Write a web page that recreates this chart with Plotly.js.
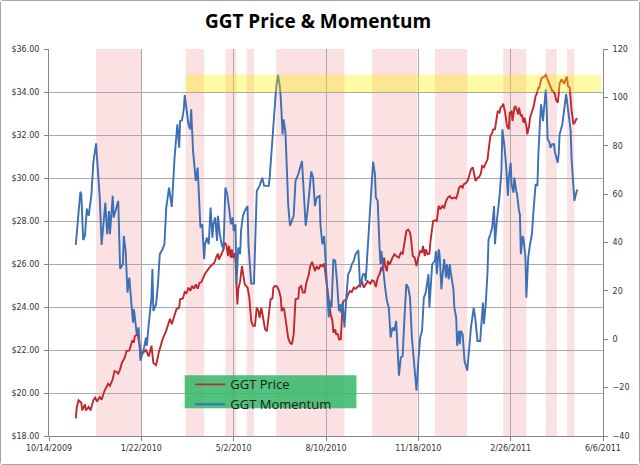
<!DOCTYPE html>
<html>
<head>
<meta charset="utf-8">
<script src="https://cdn.plot.ly/plotly-3.0.1.min.js"></script>
<style>
  body { margin: 0; background: #fff; }
  #frame { width: 638px; height: 463px; border: 1px solid #a6a6a6; border-radius: 3px; }
  #plot1 { width: 638px; height: 463px; }
</style>
</head>
<body>
<div id="frame"><div id="plot1"></div></div>
<script>
///////////////////////////////////////////////  data /////////////////////////////////////////////////////////
var priceDates = [
  '2009-11-12','2009-11-13','2009-11-15','2009-11-18','2009-11-19','2009-11-22','2009-11-23','2009-11-26','2009-11-28',
  '2009-12-01','2009-12-03','2009-12-05','2009-12-08','2009-12-10','2009-12-13','2009-12-15','2009-12-17','2009-12-19',
  '2009-12-22','2009-12-24','2009-12-26','2009-12-28','2009-12-30','2010-01-01','2010-01-04','2010-01-06','2010-01-09',
  '2010-01-12','2010-01-14','2010-01-15','2010-01-18','2010-01-22','2010-01-25','2010-01-27','2010-01-30','2010-02-02',
  '2010-02-04','2010-02-07','2010-02-10','2010-02-14','2010-02-18','2010-02-22','2010-02-24','2010-02-26',
  '2010-03-01','2010-03-04','2010-03-05','2010-03-08','2010-03-10','2010-03-12','2010-03-14','2010-03-16','2010-03-18',
  '2010-03-20','2010-03-22','2010-03-24','2010-03-26','2010-03-28','2010-03-30','2010-04-01','2010-04-03','2010-04-05',
  '2010-04-07','2010-04-09','2010-04-11','2010-04-13','2010-04-15','2010-04-16','2010-04-18','2010-04-21','2010-04-22',
  '2010-04-24','2010-04-26','2010-04-27','2010-04-29','2010-04-30','2010-05-01','2010-05-03','2010-05-04','2010-05-06',
  '2010-05-07','2010-05-09','2010-05-11','2010-05-12','2010-05-14','2010-05-17','2010-05-19','2010-05-21','2010-05-23',
  '2010-05-25','2010-05-27','2010-05-29','2010-05-30','2010-06-01','2010-06-03','2010-06-05','2010-06-07','2010-06-09',
  '2010-06-11','2010-06-13','2010-06-14','2010-06-16','2010-06-18','2010-06-20','2010-06-22','2010-06-23','2010-06-25',
  '2010-06-26','2010-06-28','2010-06-29','2010-06-30','2010-07-02','2010-07-04','2010-07-06','2010-07-07','2010-07-08',
  '2010-07-11','2010-07-12','2010-07-14','2010-07-16','2010-07-18','2010-07-20','2010-07-22','2010-07-24','2010-07-26',
  '2010-07-28','2010-07-29','2010-07-31','2010-08-02','2010-08-04','2010-08-06','2010-08-08','2010-08-10','2010-08-12',
  '2010-08-13','2010-08-15','2010-08-17','2010-08-18','2010-08-20','2010-08-21','2010-08-23','2010-08-24','2010-08-26',
  '2010-08-27','2010-08-28','2010-08-29','2010-09-01','2010-09-03','2010-09-05','2010-09-07','2010-09-09','2010-09-11',
  '2010-09-14','2010-09-16','2010-09-18','2010-09-20','2010-09-22','2010-09-24','2010-09-27','2010-09-29','2010-10-01',
  '2010-10-03','2010-10-05','2010-10-07','2010-10-09','2010-10-10','2010-10-12','2010-10-13','2010-10-15','2010-10-16',
  '2010-10-18','2010-10-20','2010-10-21','2010-10-23','2010-10-25','2010-10-28','2010-10-30','2010-11-01','2010-11-03',
  '2010-11-05','2010-11-07','2010-11-09','2010-11-10','2010-11-12','2010-11-14','2010-11-16','2010-11-18','2010-11-20',
  '2010-11-22','2010-11-23','2010-11-25','2010-11-26','2010-11-28','2010-11-30','2010-12-01','2010-12-03','2010-12-04',
  '2010-12-06','2010-12-08','2010-12-10','2010-12-12','2010-12-14','2010-12-16','2010-12-18','2010-12-20','2010-12-22',
  '2010-12-24','2010-12-27','2010-12-29','2010-12-31','2011-01-01','2011-01-03','2011-01-05','2011-01-06','2011-01-09',
  '2011-01-11','2011-01-13','2011-01-14','2011-01-16','2011-01-18','2011-01-19','2011-01-21','2011-01-23','2011-01-25',
  '2011-01-26','2011-01-28','2011-01-30','2011-02-01','2011-02-02','2011-02-04','2011-02-06','2011-02-07','2011-02-09',
  '2011-02-11','2011-02-12','2011-02-14','2011-02-15','2011-02-17','2011-02-18','2011-02-20','2011-02-21','2011-02-22',
  '2011-02-24','2011-02-25','2011-02-27','2011-02-28','2011-03-02','2011-03-03','2011-03-05','2011-03-06','2011-03-07',
  '2011-03-09','2011-03-10','2011-03-12','2011-03-13','2011-03-15','2011-03-16','2011-03-18','2011-03-19','2011-03-21',
  '2011-03-23','2011-03-25','2011-03-26','2011-03-28','2011-03-29','2011-03-31','2011-04-01','2011-04-03','2011-04-05',
  '2011-04-07','2011-04-09','2011-04-10','2011-04-12','2011-04-13','2011-04-15','2011-04-16','2011-04-18','2011-04-19',
  '2011-04-20','2011-04-22','2011-04-23','2011-04-25','2011-04-26','2011-04-28','2011-04-29','2011-05-01','2011-05-02',
  '2011-05-03','2011-05-05','2011-05-06','2011-05-08','2011-05-09'
];
var priceVals = [
  18.82,19.32,19.66,19.55,19.19,19.47,19.19,19.35,19.19,
  19.66,19.78,19.60,19.81,19.69,20.09,20.25,20.43,20.33,
  20.64,21.02,20.99,20.90,21.10,21.41,21.64,21.95,21.98,
  22.42,22.39,22.65,22.73,21.80,21.90,22.00,21.70,22.20,
  21.40,21.30,21.90,22.50,22.90,23.45,23.20,23.50,
  23.90,23.97,24.36,24.40,24.70,24.65,24.90,24.75,24.98,
  24.85,25.05,24.85,25.13,25.15,25.36,25.55,25.67,25.80,
  25.90,25.98,26.06,26.30,26.48,26.20,26.40,26.68,27.00,
  26.90,26.37,26.84,26.30,26.68,26.30,26.50,26.14,24.12,
  24.82,25.20,25.90,25.67,25.05,24.90,24.43,23.35,23.12,
  23.12,23.97,23.80,23.50,23.97,23.35,22.96,22.88,23.80,
  24.36,24.40,24.90,24.98,24.95,24.78,24.43,23.81,23.97,
  23.81,23.20,22.88,22.57,22.34,22.26,22.73,23.81,24.36,
  24.40,24.90,24.98,24.67,24.67,25.18,25.44,25.90,26.10,
  25.75,25.67,25.90,25.75,25.95,25.90,26.02,25.36,24.59,
  24.28,23.66,23.35,22.81,22.96,22.73,22.73,22.50,22.50,
  23.81,24.05,24.28,24.35,24.59,24.74,24.70,24.90,24.85,
  24.98,25.05,25.20,24.90,25.05,25.20,25.08,25.24,25.20,
  24.93,25.36,25.52,25.86,25.67,26.30,25.90,25.67,26.14,
  25.98,26.22,26.30,26.45,26.37,26.30,26.53,26.45,26.90,
  27.53,27.60,27.46,27.20,26.37,26.30,25.90,26.30,26.60,
  26.53,26.84,26.37,26.68,26.45,26.48,27.00,27.53,28.00,
  28.03,28.00,28.70,28.55,28.70,28.62,28.93,29.09,29.16,
  29.05,29.09,29.05,29.32,29.55,29.63,29.55,29.70,29.78,
  29.94,30.25,30.40,30.50,30.10,29.86,30.00,30.05,30.25,
  30.56,30.50,30.71,30.87,31.26,31.95,32.10,32.26,32.26,
  32.96,33.12,33.05,33.27,33.35,33.46,33.04,32.73,32.42,
  32.26,33.04,33.10,32.65,33.27,33.35,33.12,32.96,33.27,
  32.88,32.96,32.57,32.80,32.42,32.03,32.42,32.81,33.12,
  33.35,33.81,33.89,34.20,34.20,34.59,34.67,34.70,34.79,
  34.59,34.36,34.28,34.05,34.05,33.89,33.66,33.50,33.89,
  34.39,34.59,34.54,34.39,34.54,34.71,34.28,34.20,33.66,
  33.12,32.50,32.55,32.73,32.78
];

var momDates = [
  '2009-11-12','2009-11-17','2009-11-18','2009-11-20','2009-11-22','2009-11-24','2009-11-26','2009-11-29','2009-12-01',
  '2009-12-02','2009-12-04','2009-12-05','2009-12-08','2009-12-10','2009-12-12','2009-12-14','2009-12-16','2009-12-18',
  '2009-12-19','2009-12-22','2009-12-23','2009-12-26','2009-12-28','2009-12-30','2010-01-02','2010-01-03','2010-01-05',
  '2010-01-07','2010-01-09','2010-01-11','2010-01-13','2010-01-14','2010-01-17','2010-01-19','2010-01-21','2010-01-23',
  '2010-01-25','2010-01-27','2010-01-28','2010-01-30','2010-02-02','2010-02-03','2010-02-04','2010-02-07','2010-02-09',
  '2010-02-11','2010-02-14','2010-02-16','2010-02-18','2010-02-21','2010-02-24','2010-02-27','2010-03-01','2010-03-02',
  '2010-03-04','2010-03-05','2010-03-07','2010-03-09','2010-03-10','2010-03-12','2010-03-14','2010-03-16','2010-03-17',
  '2010-03-19','2010-03-21','2010-03-22','2010-03-24','2010-03-26','2010-03-27','2010-03-29','2010-03-31','2010-04-01',
  '2010-04-03','2010-04-05','2010-04-07','2010-04-09','2010-04-10','2010-04-12','2010-04-14','2010-04-15','2010-04-17',
  '2010-04-19','2010-04-21','2010-04-23','2010-04-25','2010-04-27','2010-04-29','2010-05-01','2010-05-02','2010-05-04',
  '2010-05-05','2010-05-07','2010-05-09','2010-05-10','2010-05-12','2010-05-14','2010-05-17','2010-05-18','2010-05-20',
  '2010-05-21','2010-05-24','2010-05-25','2010-05-27','2010-05-30','2010-06-02','2010-06-04','2010-06-09','2010-06-10',
  '2010-06-12','2010-06-14','2010-06-17','2010-06-19','2010-06-21','2010-06-22','2010-06-24','2010-06-25','2010-06-27',
  '2010-06-29','2010-06-30','2010-07-02','2010-07-04','2010-07-06','2010-07-08','2010-07-11','2010-07-13','2010-07-15',
  '2010-07-16','2010-07-19','2010-07-21','2010-07-23','2010-07-25','2010-07-27','2010-07-29','2010-07-31','2010-08-03',
  '2010-08-04','2010-08-06','2010-08-08','2010-08-10','2010-08-11','2010-08-13','2010-08-14','2010-08-16','2010-08-18',
  '2010-08-20','2010-08-22','2010-08-24','2010-08-25','2010-08-26','2010-08-28','2010-08-30','2010-09-01','2010-09-03',
  '2010-09-05','2010-09-07','2010-09-09','2010-09-11','2010-09-14','2010-09-15','2010-09-16','2010-09-19','2010-09-21',
  '2010-09-22','2010-09-24','2010-09-26','2010-09-28','2010-09-30','2010-10-02','2010-10-03','2010-10-05','2010-10-07',
  '2010-10-08','2010-10-09','2010-10-11','2010-10-13','2010-10-15','2010-10-17','2010-10-19','2010-10-21','2010-10-23',
  '2010-10-25','2010-10-27','2010-10-28','2010-10-30','2010-11-01','2010-11-03','2010-11-05','2010-11-07','2010-11-09',
  '2010-11-11','2010-11-13','2010-11-16','2010-11-18','2010-11-20','2010-11-22','2010-11-24','2010-11-26','2010-11-28',
  '2010-11-29','2010-11-30','2010-12-02','2010-12-03','2010-12-06','2010-12-07','2010-12-08','2010-12-10','2010-12-11',
  '2010-12-13','2010-12-14','2010-12-16','2010-12-18','2010-12-19','2010-12-21','2010-12-22','2010-12-24','2010-12-26',
  '2010-12-27','2010-12-29','2010-12-30','2011-01-01','2011-01-02','2011-01-03','2011-01-05','2011-01-07','2011-01-10',
  '2011-01-12','2011-01-14','2011-01-17','2011-01-19','2011-01-21','2011-01-24','2011-01-25','2011-01-27','2011-01-28',
  '2011-01-30','2011-02-01','2011-02-02','2011-02-04','2011-02-06','2011-02-08','2011-02-09','2011-02-11','2011-02-13',
  '2011-02-14','2011-02-16','2011-02-17','2011-02-19','2011-02-21','2011-02-23','2011-02-24','2011-02-26','2011-02-27',
  '2011-03-01','2011-03-02','2011-03-04','2011-03-05','2011-03-07','2011-03-08','2011-03-09','2011-03-11','2011-03-12',
  '2011-03-14','2011-03-15','2011-03-17','2011-03-19','2011-03-21','2011-03-23','2011-03-25','2011-03-27','2011-03-28',
  '2011-03-30','2011-03-31','2011-04-02','2011-04-03','2011-04-05','2011-04-06','2011-04-07','2011-04-09','2011-04-10',
  '2011-04-12','2011-04-14','2011-04-15','2011-04-18','2011-04-19','2011-04-20','2011-04-23','2011-04-25','2011-04-27',
  '2011-04-28','2011-04-30','2011-05-02','2011-05-03','2011-05-05','2011-05-06','2011-05-08','2011-05-09'
];
var momVals = [
  39,61,60,41,43,54,51,60,73,
  76.5,81,75,58.6,39,50,56.5,43.4,53,
  43.4,59.3,50.3,54.4,57.2,29.2,31,42.7,36.5,
  19.3,25.5,15.9,6.9,12.4,2.1,4.9,-8.9,-6.2,
  -3.4,0.7,-2.7,6.2,17.2,29,11.7,14.5,22.8,
  35.2,37.2,39.3,54.4,62.7,54.7,75.1,85.4,88.9,
  79.2,90.2,90.5,95.1,101,94.4,88.9,86.8,95.1,
  77.9,71,65.5,71,57.2,46.2,47.5,33.1,39.3,
  42,39.3,54.4,42,47.5,50.3,40.7,51,43.4,
  39.3,37.2,62.7,60,54.4,47.5,50.3,44.8,47.5,
  22.8,37.9,35.2,44.8,51,53,55.1,39.3,26.9,
  23,23,39.3,61.3,63.4,66.8,63.4,63.4,66.8,
  76.5,90.2,104,109.3,104.7,99.9,84.7,90.9,86.1,
  66.8,55.8,46.9,48.9,51,65.5,68.2,71,73.7,
  66.8,46.9,53,62.7,69.3,66.8,55.1,58.6,59.3,
  47.5,39.3,42.7,28.3,20,9,15.9,13.1,33.1,
  32.4,23.4,11.7,14.5,11,15.2,4.9,17.2,26.9,
  28.3,31,32.4,35.2,36.8,25.5,21.4,26.9,26.9,
  24.1,37.9,47.5,61.3,73.4,68.2,58.6,57.2,37.9,
  31,36.5,28.3,21.4,15.9,13.1,0.7,4.9,3.5,
  7.6,-7.5,-15.1,-7.5,-6.9,9,22.8,21.4,17.2,
  0.7,-7.5,-21.3,-8.9,0.7,3.5,17.2,19.3,23.4,
  26.9,13.1,28.3,31,32.4,36.5,26.9,37.2,35.2,
  20.7,25.5,33.1,25.5,31,24.8,31,25.5,20.7,
  13.1,9,-2.7,3.5,-2,3.5,2.1,-8.9,-13,
  -3.4,4.9,13.1,7.6,-0.7,-0.7,4.9,15.2,6.2,
  14.5,28.3,41.3,43.4,46.2,55.1,39.3,48.9,55.1,
  59.3,69.6,86.8,80.6,72.3,59.3,66.8,73,64.1,
  60.6,66.8,61.3,59.9,53,51.7,35.2,42.7,41.3,
  33.8,17.2,33.8,39.3,43.4,54.4,64.1,63.4,76.5,
  91.6,97.1,90.2,94.4,103.3,95.8,82.7,81.3,79.2,
  80.6,80.6,77.2,73,76.5,84.7,88.9,94.4,101.3,
  98.5,93,86.1,74.4,64.1,57.2,60.5,61.9
];

// pink periods and the yellow "over 34" band
var shadeStart = ['2009-12-04','2010-03-11','2010-04-23','2010-05-16','2010-06-17','2010-09-29','2010-12-06','2011-02-18','2011-04-05','2011-04-28'];
var shadeEnd   = ['2010-01-22','2010-03-31','2010-05-05','2010-05-24','2010-08-30','2010-11-17','2011-01-10','2011-03-15','2011-04-17','2011-05-06'];
var bandDates  = ['2010-03-11','2011-06-04'];
var bandPrice  = [34.0, 34.8];

var tickDates  = ['2009-10-14','2010-01-22','2010-05-02','2010-08-10','2010-11-18','2011-02-26','2011-06-06'];
var tickLabels = ['10/14/2009','1/22/2010','5/2/2010','8/10/2010','11/18/2010','2/26/2011','6/6/2011'];

///////////////////////////////////////////////  plot /////////////////////////////////////////////////////////
var tickFont = {family: 'DejaVu Sans, Verdana, sans-serif', size: 8, color: '#333333'};
var gridCol = '#a9a9a9';
var axisCol = '#868686';

function shadeShapes() {
  var shapes = [];
  for (var i = 0; i < shadeStart.length; i++) {
    shapes.push({type: 'rect', xref: 'x', yref: 'paper', x0: shadeStart[i], x1: shadeEnd[i], y0: 0, y1: 1,
      fillcolor: '#fbe1e1', line: {width: 0}, layer: 'below'});
  }
  shapes.push({type: 'rect', xref: 'x', yref: 'y', x0: bandDates[0], x1: bandDates[1], y0: bandPrice[0], y1: bandPrice[1],
    fillcolor: '#fff000', opacity: 0.35, line: {width: 0}, layer: 'above'});
  // legend box
  shapes.push({type: 'rect', xref: 'paper', yref: 'paper', x0: 0.245, x1: 0.555, y0: 0.072, y1: 0.157,
    fillcolor: 'rgba(50,185,105,0.85)', line: {width: 0}, layer: 'above'});
  return shapes;
}

var dataTemp = [
  {x: priceDates, y: priceVals, type: 'scatter', mode: 'lines', name: 'GGT Price',
   line: {color: '#c0282d', width: 1.9}, yaxis: 'y'},
  {x: momDates, y: momVals, type: 'scatter', mode: 'lines', name: 'GGT Momentum',
   line: {color: '#3c6fb5', width: 1.9}, yaxis: 'y2'}
];

var layoutMain = {
  width: 638, height: 463,
  margin: {l: 48, r: 36, t: 48, b: 28},
  paper_bgcolor: '#ffffff', plot_bgcolor: '#ffffff',
  title: {text: 'GGT Price & Momentum', xref: 'container', yref: 'container', x: 0.497, y: 0.955,
    xanchor: 'center', yanchor: 'middle',
    font: {family: 'Open Sans, sans-serif', size: 19, weight: 'bold', color: '#000000'}},
  showlegend: true,
  legend: {x: 0.255, y: 0.172, xanchor: 'left', yanchor: 'top', bgcolor: 'rgba(0,0,0,0)', borderwidth: 0,
    font: {family: 'Open Sans, sans-serif', size: 13, color: '#1a1a1a'}},
  xaxis: {type: 'date', range: ['2009-10-14', '2011-06-06'], tickmode: 'array', tickvals: tickDates, ticktext: tickLabels,
    showgrid: true, gridcolor: gridCol, gridwidth: 1, showline: true, linecolor: axisCol, zeroline: false,
    ticks: 'outside', ticklen: 4, tickcolor: axisCol, tickfont: tickFont, fixedrange: true},
  yaxis: {range: [18, 36], tick0: 18, dtick: 2, tickprefix: '$', tickformat: '.2f',
    showgrid: true, gridcolor: gridCol, gridwidth: 1, showline: true, linecolor: axisCol, zeroline: false,
    ticks: 'outside', ticklen: 4, tickcolor: axisCol, tickfont: tickFont, ticklabelstandoff: 3, fixedrange: true},
  yaxis2: {range: [-40, 120], tick0: -40, dtick: 20, overlaying: 'y', side: 'right',
    showgrid: false, showline: true, linecolor: axisCol, zeroline: false,
    ticks: 'outside', ticklen: 4, tickcolor: axisCol, tickfont: tickFont, ticklabelstandoff: 3, fixedrange: true},
  shapes: shadeShapes()
};

Plotly.newPlot('plot1', dataTemp, layoutMain, {displayModeBar: false, staticPlot: true});
</script>
</body>
</html>
